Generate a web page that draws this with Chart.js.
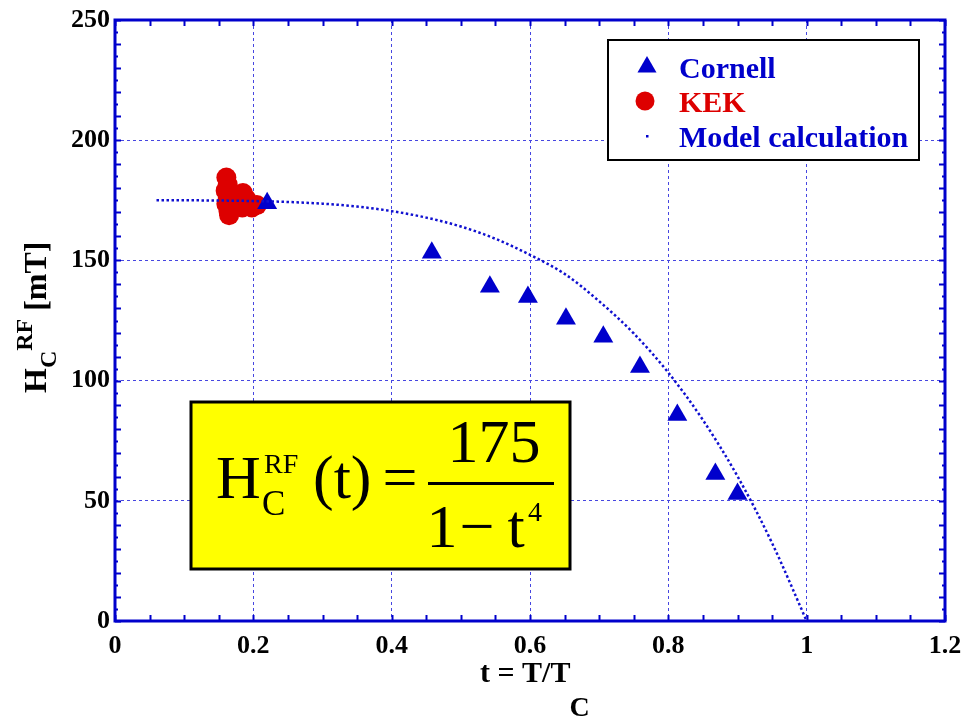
<!DOCTYPE html>
<html><head><meta charset="utf-8">
<script src="https://cdn.jsdelivr.net/npm/chart.js@4/dist/chart.umd.min.js"></script>
<style>html,body{margin:0;padding:0;background:#fff}#wrap{position:relative;width:965px;height:717px}</style>
</head><body><div id="wrap"><canvas id="c" width="965" height="717"></canvas></div>
<script>
// ---- data ----
const xTickValues = [0, 0.2, 0.4, 0.6, 0.8, 1, 1.2];
const yTickValues = [0, 50, 100, 150, 200, 250];

const cornellT = [0.220, 0.458, 0.542, 0.597, 0.652, 0.706, 0.759, 0.813, 0.868, 0.900];
const cornellH = [173.8, 153.2, 139.0, 134.8, 125.7, 118.2, 105.7, 85.7, 61.2, 52.8];

const kekT = [0.161, 0.163, 0.160, 0.163, 0.161, 0.164, 0.165, 0.185, 0.184, 0.190, 0.205, 0.198];
const kekH = [184.5, 181.5, 179.0, 176.0, 173.5, 170.5, 168.8, 178.0, 172.0, 175.5, 173.0, 172.0];

const modelT = [0.06, 0.10, 0.15, 0.20, 0.25, 0.30, 0.35, 0.40, 0.45, 0.50, 0.55, 0.60, 0.65, 0.70, 0.75, 0.80, 0.85, 0.90, 0.95, 1.00];
const modelH = [175.0, 175.0, 174.9, 174.7, 174.3, 173.6, 172.4, 170.5, 167.8, 164.1, 159.0, 152.3, 144.4, 133.0, 119.6, 103.3, 83.6, 60.2, 32.4, 0.0];

const legendLabels = ['Cornell', 'KEK', 'Model calculation'];

// ---- styles ----
const BLUE = '#0000cc';
const RED = '#dd0000';
const GRID = 'rgb(70,70,225)';
const SERIF = '"Liberation Serif", "Times New Roman", serif';

const zip = (xs, ys) => xs.map((x, i) => ({x, y: ys[i]}));

const framePlugin = {
  id: 'frame',
  beforeDatasetsDraw(chart) {
    const {ctx, chartArea: a, scales: {x, y}} = chart;
    ctx.save();
    ctx.strokeStyle = BLUE;
    ctx.lineWidth = 2;
    ctx.setLineDash([]);
    ctx.beginPath();
    for (let i = 0; i <= 24; i++) {
      const px = Math.round(x.getPixelForValue(i * 0.05)) + 0.5;
      ctx.moveTo(px, a.bottom); ctx.lineTo(px, a.bottom - 6);
      ctx.moveTo(px, a.top); ctx.lineTo(px, a.top + 6);
    }
    for (let i = 0; i <= 50; i++) {
      const py = Math.round(y.getPixelForValue(i * 5)) + 0.5;
      const len = (i % 2 === 0) ? 6 : 3;
      ctx.moveTo(a.left, py); ctx.lineTo(a.left + len, py);
      ctx.moveTo(a.right, py); ctx.lineTo(a.right - len, py);
    }
    ctx.stroke();
    ctx.lineWidth = 3;
    ctx.strokeRect(a.left, a.top, a.right - a.left, a.bottom - a.top);

    // formula box
    ctx.fillStyle = '#ffff00';
    ctx.fillRect(191, 402, 379, 167);
    ctx.strokeStyle = '#000';
    ctx.lineWidth = 3;
    ctx.strokeRect(191, 402, 379, 167);
    ctx.fillStyle = '#000';
    ctx.textBaseline = 'alphabetic';
    ctx.textAlign = 'left';
    ctx.font = '62px ' + SERIF;
    ctx.fillText('H', 216, 498);
    ctx.font = '28px ' + SERIF;
    ctx.fillText('RF', 264, 473);
    ctx.font = '35px ' + SERIF;
    ctx.fillText('C', 262, 515);
    ctx.font = '62px ' + SERIF;
    ctx.fillText('(t)', 313, 498);
    ctx.textAlign = 'center';
    ctx.fillText('=', 400, 498);
    ctx.fillText('175', 494, 462);
    ctx.fillText('1', 442, 547);
    ctx.fillText('\u2212', 477, 547);
    ctx.fillText('t', 516, 547);
    ctx.font = '28px ' + SERIF;
    ctx.fillText('4', 535, 521);
    ctx.fillRect(428, 482, 126, 3);
    ctx.restore();
  },
  afterDraw(chart) {
    const {ctx, chartArea: a} = chart;
    ctx.save();
    // legend
    ctx.fillStyle = '#fff';
    ctx.fillRect(608, 40, 311, 120);
    ctx.strokeStyle = '#000';
    ctx.lineWidth = 2;
    ctx.strokeRect(608, 40, 311, 120);
    ctx.font = 'bold 30px ' + SERIF;
    ctx.textAlign = 'left';
    ctx.textBaseline = 'alphabetic';
    const r = 11;
    ctx.fillStyle = BLUE;
    ctx.beginPath();
    ctx.moveTo(647, 67 - r);
    ctx.lineTo(647 + 0.866 * r, 67 + r / 2);
    ctx.lineTo(647 - 0.866 * r, 67 + r / 2);
    ctx.closePath();
    ctx.fill();
    ctx.fillText(legendLabels[0], 679, 78);
    ctx.fillStyle = RED;
    ctx.beginPath();
    ctx.arc(645, 101, 9.5, 0, Math.PI * 2);
    ctx.fill();
    ctx.fillText(legendLabels[1], 679, 112);
    ctx.fillStyle = BLUE;
    ctx.fillRect(646, 135, 2.5, 2.5);
    ctx.fillText(legendLabels[2], 679, 147);

    // x title
    ctx.fillStyle = '#000';
    ctx.font = 'bold 30px ' + SERIF;
    const xt = 't = T/T';
    const wx = ctx.measureText(xt).width;
    ctx.fillText(xt, 480, 682);
    ctx.font = 'bold 28px ' + SERIF;
    ctx.fillText('C', 480 + wx - 1, 716);

    // y title (rotated)
    ctx.translate(46, 393);
    ctx.rotate(-Math.PI / 2);
    ctx.font = 'bold 32px ' + SERIF;
    ctx.fillText('H', 0, 0);
    let off = ctx.measureText('H').width;
    ctx.font = 'bold 24px ' + SERIF;
    ctx.fillText('C', off, 10);
    off += ctx.measureText('C').width;
    ctx.fillText('RF', off, -14);
    off += ctx.measureText('RF').width;
    ctx.font = 'bold 32px ' + SERIF;
    ctx.fillText(' [mT]', off, 0);
    ctx.restore();
  }
};

const tickFont = {family: SERIF, size: 26, weight: 'bold'};

new Chart(document.getElementById('c'), {
  type: 'scatter',
  data: {
    datasets: [
      {
        label: legendLabels[2],
        type: 'line',
        data: zip(modelT, modelH),
        showLine: true,
        borderColor: '#1010d0',
        borderWidth: 2.5,
        borderDash: [2.5, 2.5],
        pointRadius: 0,
        cubicInterpolationMode: 'monotone',
        fill: false
      },
      {
        label: legendLabels[0],
        data: zip(cornellT, cornellH),
        pointStyle: 'triangle',
        pointRadius: 11.5,
        backgroundColor: BLUE,
        borderColor: BLUE,
        borderWidth: 0
      },
      {
        label: legendLabels[1],
        data: zip(kekT, kekH),
        pointStyle: 'circle',
        pointRadius: 10,
        backgroundColor: RED,
        borderColor: RED,
        borderWidth: 0
      }
    ]
  },
  options: {
    responsive: false,
    animation: false,
    devicePixelRatio: 1,
    layout: {padding: {top: 20, right: 20, left: 0, bottom: 0}},
    plugins: {legend: {display: false}, tooltip: {enabled: false}},
    scales: {
      x: {
        type: 'linear', min: 0, max: 1.2,
        afterBuildTicks: s => { s.ticks = xTickValues.map(v => ({value: v})); },
        afterFit: s => { s.height = 96; s.paddingLeft = 0; s.paddingRight = 0; },
        ticks: {font: tickFont, color: '#000', padding: 10, autoSkip: false, maxRotation: 0,
                callback: v => String(v)},
        grid: {color: GRID, lineWidth: 1, drawTicks: false},
        border: {display: false, dash: [3, 3]}
      },
      y: {
        type: 'linear', min: 0, max: 250,
        afterBuildTicks: s => { s.ticks = yTickValues.map(v => ({value: v})); },
        afterFit: s => { s.width = 115; s.paddingTop = 0; s.paddingBottom = 0; },
        ticks: {font: tickFont, color: '#000', padding: 5, callback: v => String(v)},
        grid: {color: GRID, lineWidth: 1, drawTicks: false},
        border: {display: false, dash: [3, 3]}
      }
    }
  },
  plugins: [framePlugin]
});
</script>
</body></html>
